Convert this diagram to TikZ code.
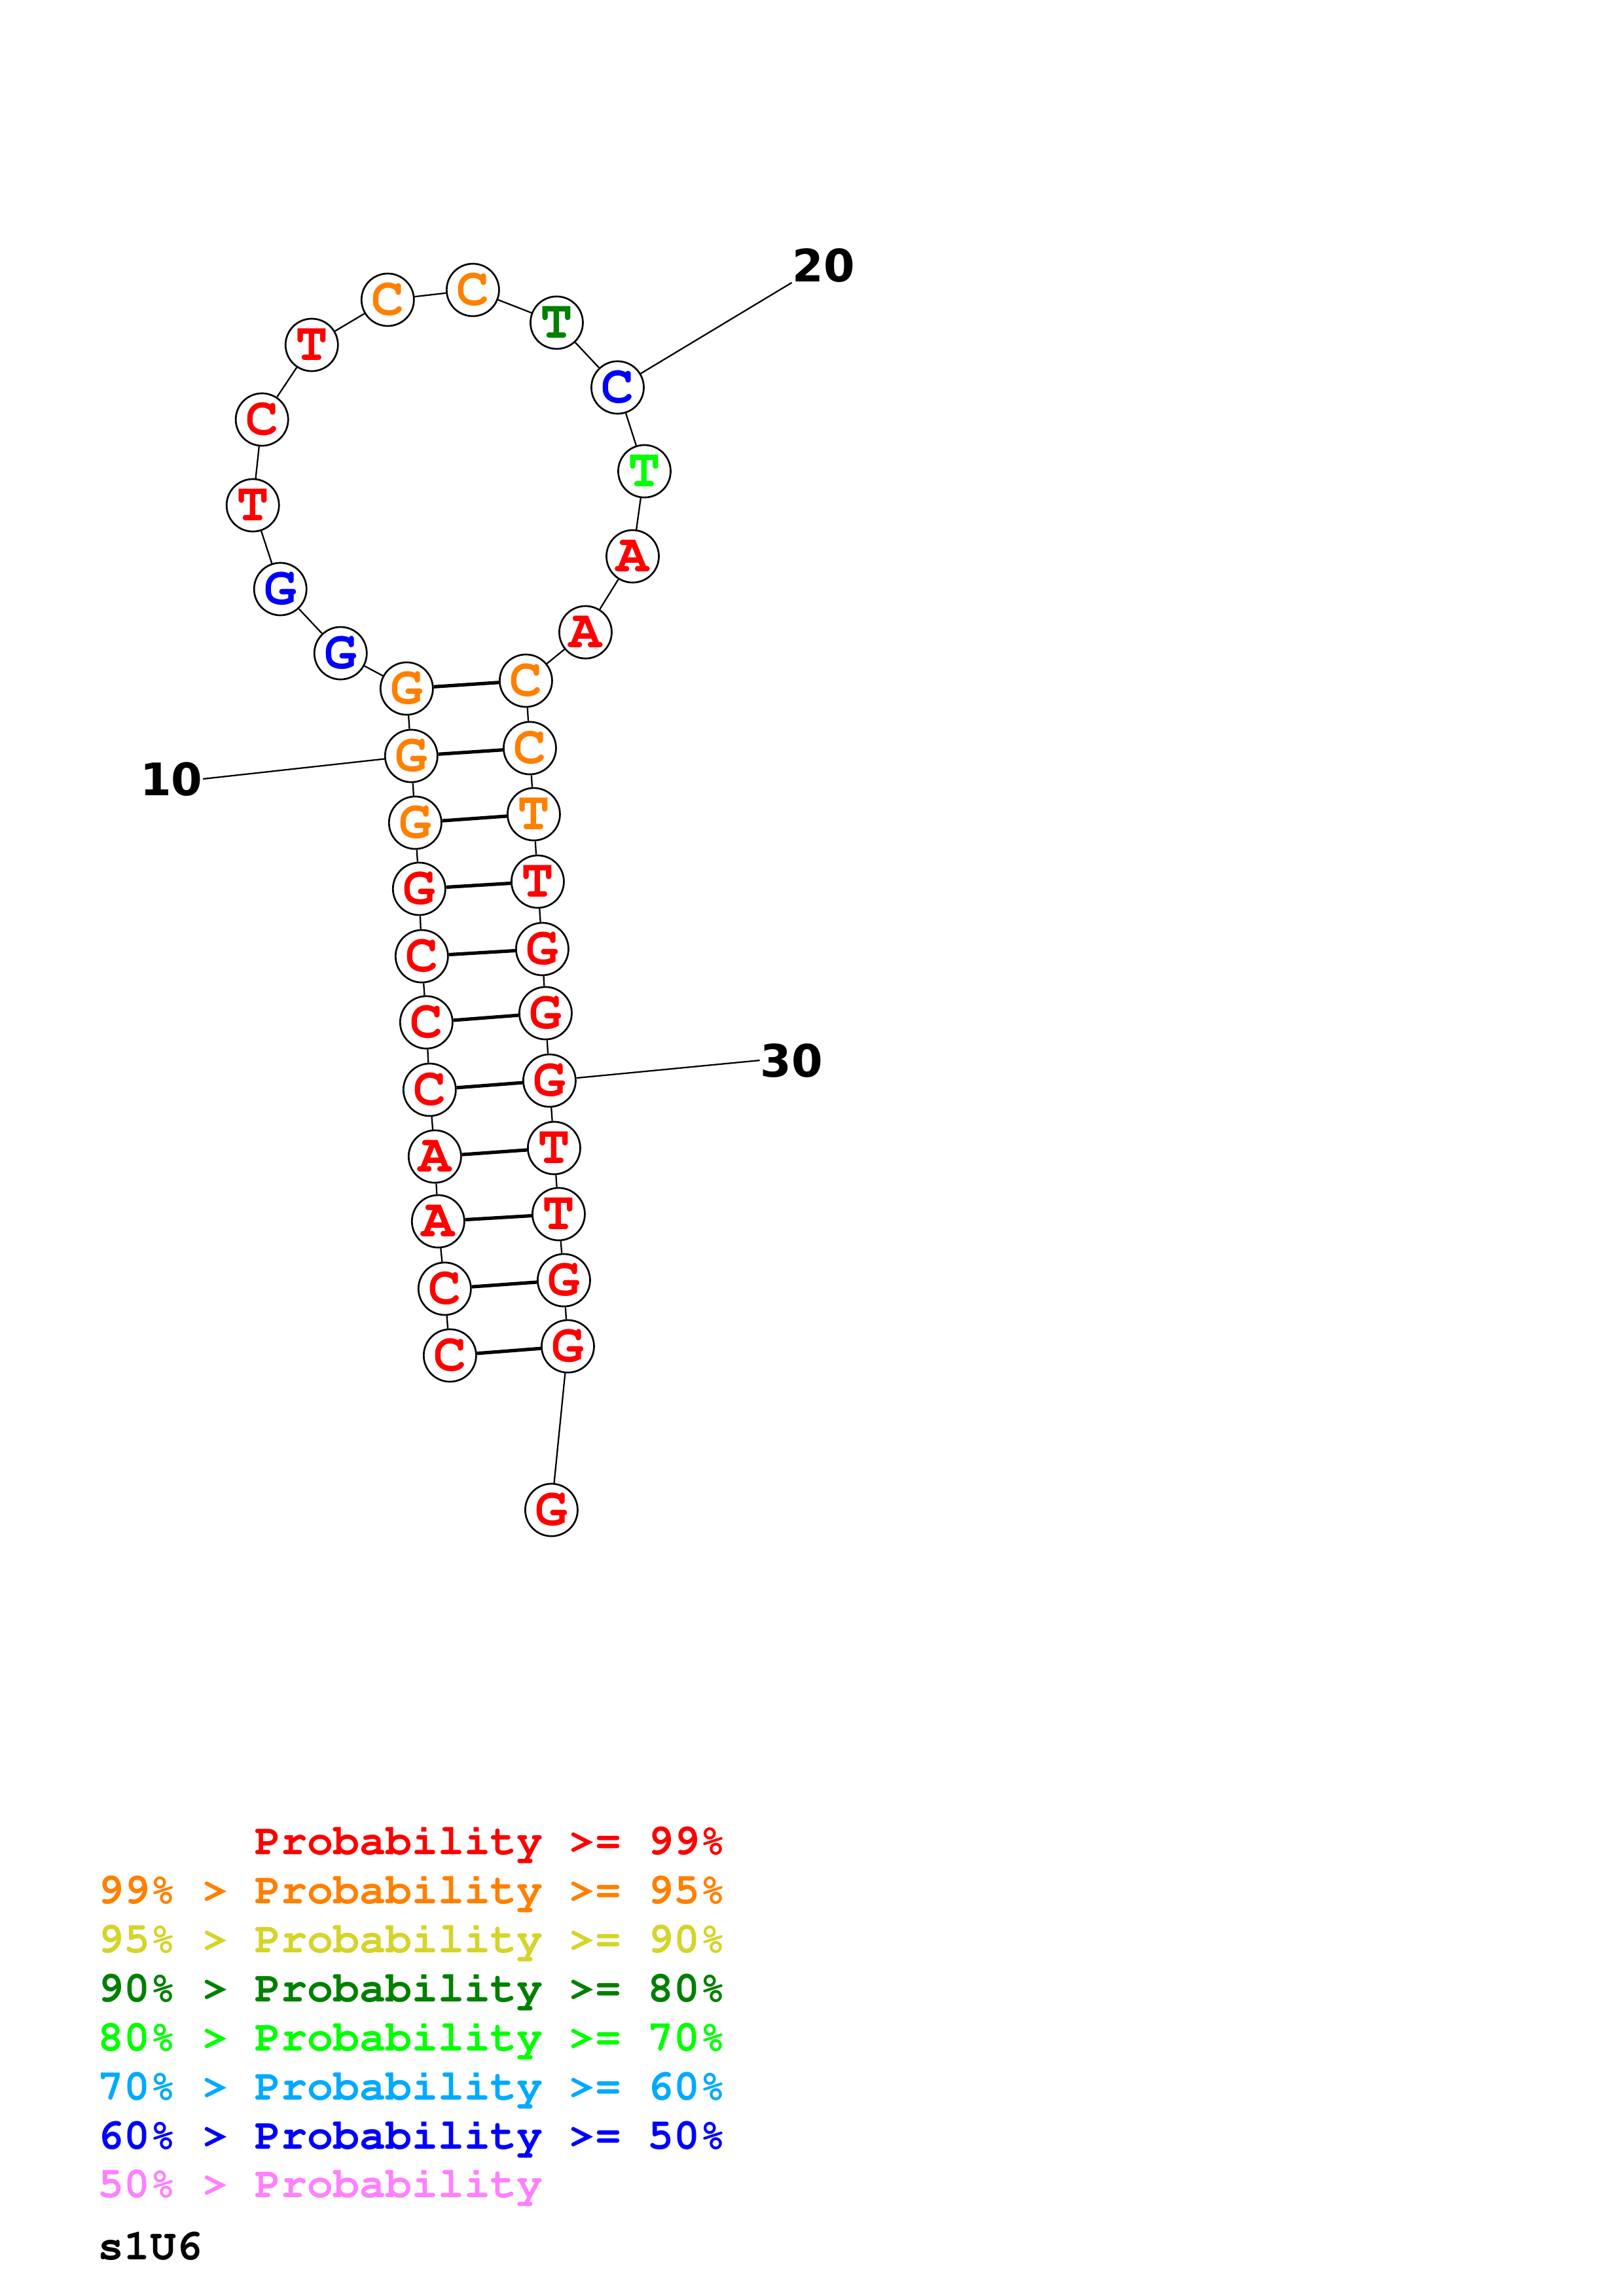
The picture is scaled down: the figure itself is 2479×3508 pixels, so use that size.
\documentclass[tikz,border=0pt]{standalone}
\usepackage[T1]{fontenc}
\usepackage{fontspec}
\newfontfamily\numfont{DejaVu Sans}
\newcommand{\courbold}[1]{\fontencoding{T1}\fontfamily{pcr}\fontseries{b}\fontshape{n}\fontsize{#1}{#1}\selectfont}

\definecolor{c99}{RGB}{255,0,0}
\definecolor{c95}{RGB}{255,128,0}
\definecolor{c90}{RGB}{212,212,42}
\definecolor{c80}{RGB}{0,128,0}
\definecolor{c70}{RGB}{0,255,0}
\definecolor{c60}{RGB}{0,170,255}
\definecolor{c50}{RGB}{0,0,255}
\definecolor{clow}{RGB}{255,128,255}

\begin{document}
\begin{tikzpicture}[x=0.084711mm, y=-0.084664mm,
    nuc/.style={circle, draw, fill=white, line width=0.65pt, minimum size=6.78mm, inner sep=0pt, font=\courbold{20}},
    backbone/.style={line width=0.55pt},
    pair/.style={line width=1.25pt},
    numlab/.style={inner sep=0pt, font=\numfont\bfseries\fontsize{16.5}{18}\selectfont},
    legend/.style={inner sep=0pt, anchor=base west, font=\courbold{16.05}}]
    \fill[white] (0,0) rectangle (2479,3508);
    \useasboundingbox (0,0) rectangle (2479,3508);

    % Nodes of the helix, left strand
    \node[nuc, text=c99] (n1) at (687,2071) {C};
    \node[nuc, text=c99] (n2) at (679,1969) {C};
    \node[nuc, text=c99] (n3) at (669,1866) {A};
    \node[nuc, text=c99] (n4) at (664,1767) {A};
    \node[nuc, text=c99] (n5) at (656,1665) {C};
    \node[nuc, text=c99] (n6) at (651,1562) {C};
    \node[nuc, text=c99] (n7) at (644,1461) {C};
    \node[nuc, text=c99] (n8) at (640,1358) {G};
    \node[nuc, text=c95] (n9) at (634,1257) {G};
    \node[nuc, text=c95] (n10) at (628,1155) {G};
    \node[nuc, text=c95] (n11) at (621,1052) {G};

    % Nodes placed in the loop
    \node[nuc, text=c50] (n12) at (520,998) {G};
    \node[nuc, text=c50] (n13) at (428,900) {G};
    \node[nuc, text=c99] (n14) at (386,772) {T};
    \node[nuc, text=c99] (n15) at (400,641) {C};
    \node[nuc, text=c99] (n16) at (476,527) {T};
    \node[nuc, text=c95] (n17) at (592,458) {C};
    \node[nuc, text=c95] (n18) at (722,443) {C};
    \node[nuc, text=c80] (n19) at (850,493) {T};
    \node[nuc, text=c50] (n20) at (943,592) {C};
    \node[nuc, text=c70] (n21) at (984,720) {T};
    \node[nuc, text=c99] (n22) at (966,850) {A};
    \node[nuc, text=c99] (n23) at (894,966) {A};

    % Nodes of the helix, right strand
    \node[nuc, text=c95] (n24) at (803,1040) {C};
    \node[nuc, text=c95] (n25) at (809,1143) {C};
    \node[nuc, text=c95] (n26) at (815,1244) {T};
    \node[nuc, text=c99] (n27) at (821,1347) {T};
    \node[nuc, text=c99] (n28) at (828,1450) {G};
    \node[nuc, text=c99] (n29) at (833,1548) {G};
    \node[nuc, text=c99] (n30) at (839,1651) {G};
    \node[nuc, text=c99] (n31) at (846,1754) {T};
    \node[nuc, text=c99] (n32) at (853,1855) {T};
    \node[nuc, text=c99] (n33) at (861,1956) {G};
    \node[nuc, text=c99] (n34) at (867,2057) {G};
    \node[nuc, text=c99] (n35) at (842,2307) {G};

    % Backbone
    \draw[backbone] (n1) -- (n2) -- (n3) -- (n4) -- (n5) -- (n6) -- (n7) -- (n8) -- (n9) -- (n10) -- (n11) -- (n12);
    \draw[backbone] (n12) -- (n13) -- (n14) -- (n15) -- (n16) -- (n17) -- (n18) -- (n19) -- (n20) -- (n21) -- (n22) -- (n23) -- (n24);
    \draw[backbone] (n24) -- (n25) -- (n26) -- (n27) -- (n28) -- (n29) -- (n30) -- (n31) -- (n32) -- (n33) -- (n34) -- (n35);

    % Base pairs
    \draw[pair] (n1) -- (n34);
    \draw[pair] (n2) -- (n33);
    \draw[pair] (n3) -- (n32);
    \draw[pair] (n4) -- (n31);
    \draw[pair] (n5) -- (n30);
    \draw[pair] (n6) -- (n29);
    \draw[pair] (n7) -- (n28);
    \draw[pair] (n8) -- (n27);
    \draw[pair] (n9) -- (n26);
    \draw[pair] (n10) -- (n25);
    \draw[pair] (n11) -- (n24);

    % Position labels
    \node[numlab, anchor=base east] (l10) at (310,1215) {10};
    \node[numlab, anchor=base west] (l20) at (1209,430) {20};
    \node[numlab, anchor=base west] (l30) at (1160,1645) {30};
    \draw[backbone] (n10) -- (l10.east);
    \draw[backbone] (n20) -- (l20.south west);
    \draw[backbone] (n30) -- (l30.west);

    % Legend
    \node[legend, text=c99] (p99) at (149,2833) {\phantom{99\% > }Probability >= 99\%};
    \node[legend, text=c95] (p95) at (149,2908) {99\% > Probability >= 95\%};
    \node[legend, text=c90] (p90) at (149,2983) {95\% > Probability >= 90\%};
    \node[legend, text=c80] (p80) at (149,3058) {90\% > Probability >= 80\%};
    \node[legend, text=c70] (p70) at (149,3133) {80\% > Probability >= 70\%};
    \node[legend, text=c60] (p60) at (149,3208) {70\% > Probability >= 60\%};
    \node[legend, text=c50] (p50) at (149,3283) {60\% > Probability >= 50\%};
    \node[legend, text=clow] (plow) at (149,3357) {50\% > Probability};
    \node[legend] (title) at (149,3452) {s1U6};
\end{tikzpicture}
\end{document}
